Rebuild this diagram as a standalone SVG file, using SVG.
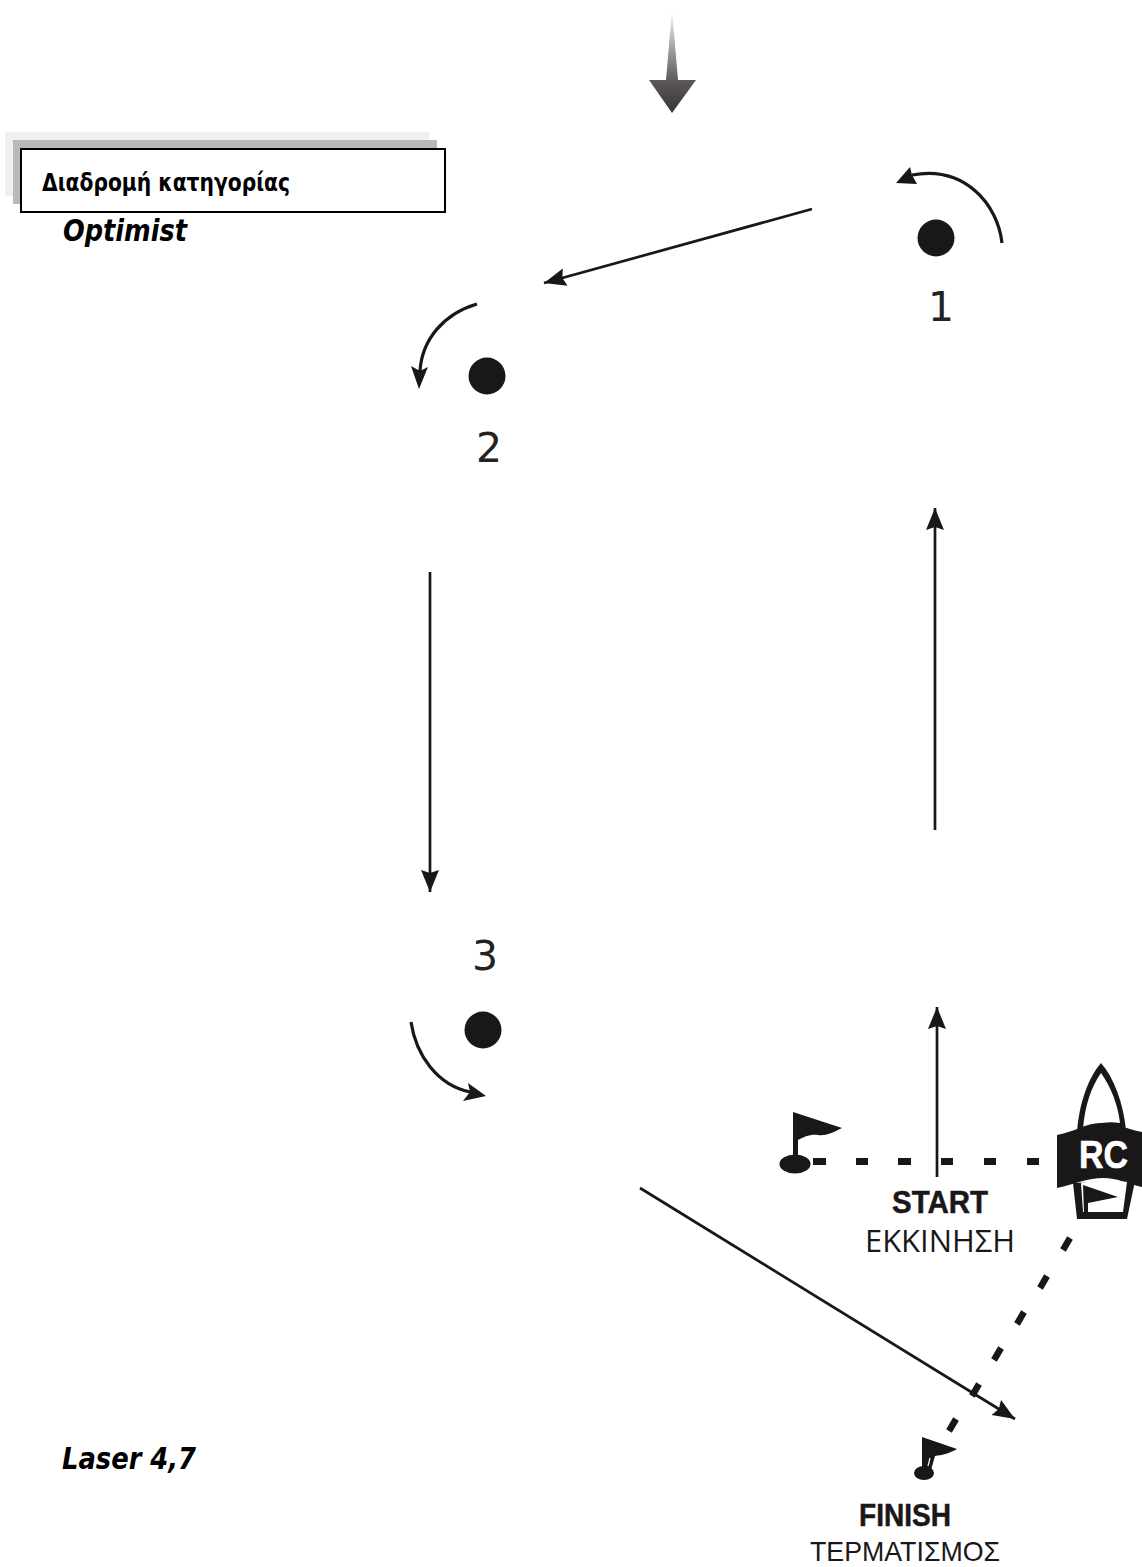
<svg xmlns="http://www.w3.org/2000/svg" width="1142" height="1567" viewBox="0 0 1142 1567">
<style>
.ln{fill:none;stroke:#1a1718;stroke-width:2.7}
.cv{fill:none;stroke:#1a1718;stroke-width:3.2}
.k{fill:#1a1718}
.num{font-family:"DejaVu Sans",sans-serif;font-size:41px;fill:#222}
.it{font-family:"DejaVu Sans",sans-serif;font-weight:bold;font-style:italic;font-size:30px;fill:#000}
.b{font-family:"Liberation Sans",sans-serif;font-weight:bold;font-size:31px;fill:#1a1718;stroke:#1a1718;stroke-width:.5}
.r{font-family:"Open Sans","Liberation Sans",sans-serif;font-size:31px;fill:#1a1718}
.r2{font-family:"Liberation Sans",sans-serif;font-size:28px;fill:#1a1718}
</style>
<defs>
<linearGradient id="wg" x1="0" y1="0" x2="0" y2="1"><stop offset="0" stop-color="#fff"/><stop offset=".35" stop-color="#a5a5a5"/><stop offset=".7" stop-color="#5a5657"/><stop offset="1" stop-color="#3a3637"/></linearGradient>
<marker id="ah" markerUnits="userSpaceOnUse" markerWidth="26" markerHeight="20" refX="22" refY="9" orient="auto"><path d="M0 0L22 9L0 18L3 9Z" fill="#1a1718"/></marker>
</defs>
<g id="wind"><path d="M672 10L678 80H696L672 113L649 80H666Z" fill="url(#wg)"/></g>
<g id="title">
<rect x="5" y="132" width="424" height="64" fill="#f0f0f0"/>
<rect x="13" y="140" width="424" height="64" fill="#b9b9b9"/>
<rect x="21" y="149" width="424" height="63" fill="#fff" stroke="#000" stroke-width="2"/>
<text x="42" y="191" font-family="DejaVu Sans,sans-serif" font-weight="bold" font-size="24px" textLength="248" lengthAdjust="spacingAndGlyphs">Διαδρομή κατηγορίας</text>
<text class="it" x="63" y="241" textLength="124" lengthAdjust="spacingAndGlyphs">Optimist</text>
</g>
<g id="laser"><text class="it" x="62" y="1469" textLength="134" lengthAdjust="spacingAndGlyphs">Laser 4,7</text></g>
<g id="mark1"><circle class="k" cx="936" cy="238" r="18.5"/><text class="num" x="928" y="321">1</text></g>
<g id="mark2"><circle class="k" cx="487" cy="376" r="18.5"/><text class="num" x="476" y="462">2</text></g>
<g id="mark3"><circle class="k" cx="483" cy="1030" r="18.5"/><text class="num" x="472" y="970">3</text></g>
<g id="connectors">
<path class="cv" d="M1002 243C998 205 965 165 912 175"/>
<path class="k" d="M896 183L910 167L912 175L917 184Z"/>
<path class="cv" d="M477 304C443 314 422 340 420 371"/>
<path class="k" d="M419 389L411 366L420 371L428 367Z"/>
<path class="cv" d="M411 1022C416 1055 437 1085 470 1092"/>
<path class="k" d="M486 1096L468 1083L470 1092L463 1101Z"/>
<path class="ln" marker-end="url(#ah)" d="M812 209L544 283"/>
<path class="ln" marker-end="url(#ah)" d="M430 572V892"/>
<path class="ln" marker-end="url(#ah)" d="M935 830V508"/>
<path class="ln" marker-end="url(#ah)" d="M937 1177V1007"/>
<path class="ln" marker-end="url(#ah)" d="M640 1188L1015 1419"/>
<path fill="none" stroke="#1a1718" stroke-width="7" d="M813 1161.500H826M856 1161.500H868M898 1161.500H911M941 1161.500H953M984 1161.500H996M1027 1161.500H1039"/>
<path fill="none" stroke="#1a1718" stroke-width="6.500" d="M1070 1238L1063 1250M1047 1276L1040 1288M1024 1312L1017 1324M1001 1348L994 1360M979 1384L972 1396M956 1419L949 1431"/>
</g>
<g id="startflag">
<path class="k" d="M793 1112L842 1128C832 1133 826 1136 818 1135C810 1134 804 1137 798 1140V1158H793Z"/>
<ellipse class="k" cx="795" cy="1164" rx="15.500" ry="9.500"/>
</g>
<g id="finishflag">
<path class="k" d="M922 1437L957 1449C948 1454 942 1455 935 1456L931 1470H922Z"/>
<ellipse class="k" cx="924" cy="1473" rx="10" ry="7"/>
<path d="M930 1458L928 1466" stroke="#fff" stroke-width="1.200"/>
</g>
<g id="rc">
<path class="k" d="M1101 1063C1114 1078 1123 1102 1126 1130L1077 1132C1079 1104 1088 1078 1101 1063Z"/>
<path fill="#fff" d="M1101 1073C1111 1087 1118 1105 1120 1123C1108 1121 1096 1123 1083 1128C1085 1106 1091 1087 1101 1073Z"/>
<path class="k" d="M1057 1135C1075 1132 1085 1123 1101 1123C1118 1123 1125 1129 1142 1132V1187C1128 1184 1118 1178 1103 1178C1088 1178 1075 1184 1057 1188Z"/>
<path class="k" d="M1073 1183L1135 1181L1127 1219H1077Z"/>
<path fill="#fff" d="M1081 1183C1095 1180 1112 1179 1127 1182L1123 1212H1083Z"/>
<path class="k" d="M1083 1185L1118 1197L1088 1203V1213H1084Z"/>
<text x="1079" y="1168" font-family="Liberation Sans,sans-serif" font-weight="bold" font-size="39px" fill="#fff" stroke="#fff" stroke-width=".6" textLength="49" lengthAdjust="spacingAndGlyphs">RC</text>
</g>
<g id="labels">
<text class="b" x="892" y="1213" textLength="96" lengthAdjust="spacingAndGlyphs">START</text>
<text class="r" x="865" y="1252" textLength="150" lengthAdjust="spacingAndGlyphs">ΕΚΚΙΝΗΣΗ</text>
<text class="b" x="859" y="1526" textLength="92" lengthAdjust="spacingAndGlyphs">FINISH</text>
<text class="r2" x="810" y="1561" textLength="190" lengthAdjust="spacingAndGlyphs">ΤΕΡΜΑΤΙΣΜΟΣ</text>
</g>
</svg>
